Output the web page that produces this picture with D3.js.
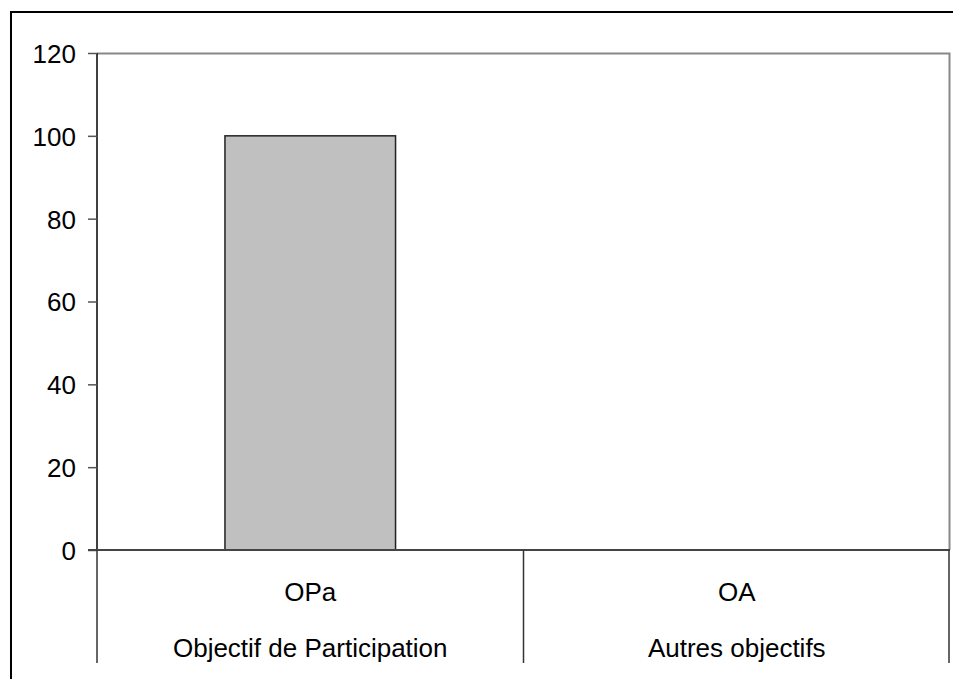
<!DOCTYPE html>
<html>
<head>
<meta charset="utf-8">
<script src="https://cdn.jsdelivr.net/npm/d3@7"></script>
<style>
  html, body { margin: 0; padding: 0; background: #fff; }
  svg { display: block; }
  text { font-family: "Liberation Sans", Arial, sans-serif; fill: #000; }
</style>
</head>
<body>
<svg id="chart" width="953" height="679"></svg>
<script>
const categories = ["OPa", "OA"];
const categoryNames = ["Objectif de Participation", "Autres objectifs"];
const values = [100, 0];
const yTicks = [0, 20, 40, 60, 80, 100, 120];

const W = 953, H = 679;
const margin = { left: 97, top: 53, right: 3, bottom: 129 };
const plotW = W - margin.left - margin.right;
const plotH = H - margin.top - margin.bottom;

const svg = d3.select("#chart");

// outer chart border
svg.append("rect")
  .attr("x", 11).attr("y", 12)
  .attr("width", 960).attr("height", 700)
  .attr("fill", "none").attr("stroke", "#000").attr("stroke-width", 2);

const g = svg.append("g").attr("transform", `translate(${margin.left},${margin.top})`);

const x = d3.scaleBand().domain(categories).range([0, plotW]).paddingInner(0.6).paddingOuter(0.3);
const xBand = d3.scaleBand().domain(categories).range([0, plotW]);
const y = d3.scaleLinear().domain([0, 120]).range([plotH, 0]);

// plot area border (top and right, gray)
g.append("path")
  .attr("d", `M0,0.5H${plotW - 0.5}V${plotH}`)
  .attr("fill", "none").attr("stroke", "#888").attr("stroke-width", 2);

// bars
g.selectAll("rect.bar").data(values).join("rect")
  .attr("class", "bar")
  .attr("x", (d, i) => x(categories[i]))
  .attr("width", x.bandwidth())
  .attr("y", d => y(d))
  .attr("height", d => y(0) - y(d))
  .attr("fill", "#c0c0c0").attr("stroke", "#222").attr("stroke-width", 1.5);

// y axis
const yAxis = d3.axisLeft(y).tickValues(yTicks).tickSize(9).tickPadding(12).tickFormat(d3.format("d"));
const ya = g.append("g").call(yAxis);
ya.select(".domain").attr("stroke", "#000").attr("stroke-width", 1.5).attr("d", `M0,0V${plotH}`);
ya.selectAll(".tick line").attr("stroke", "#555").attr("stroke-width", 1.5);
ya.selectAll(".tick text")
  .style("font-family", '"Liberation Sans", Arial, sans-serif')
  .attr("font-size", 26).attr("dy", "0.36em").attr("fill", "#000");

// zero baseline
g.append("line")
  .attr("x1", -9).attr("x2", plotW).attr("y1", y(0)).attr("y2", y(0))
  .attr("stroke", "#444").attr("stroke-width", 2);

// category separators
const seps = categories.map(c => xBand(c)).concat([plotW - 1]);
g.selectAll("line.sep").data(seps).join("line")
  .attr("class", "sep")
  .attr("x1", d => d).attr("x2", d => d)
  .attr("y1", y(0)).attr("y2", y(0) + 113)
  .attr("stroke", "#333").attr("stroke-width", 1.5);

// category labels
g.selectAll("text.cat").data(categories).join("text")
  .attr("class", "cat")
  .attr("x", d => xBand(d) + xBand.bandwidth() / 2)
  .attr("y", y(0) + 51)
  .attr("text-anchor", "middle").attr("font-size", 26)
  .text(d => d);

g.selectAll("text.catname").data(categoryNames).join("text")
  .attr("class", "catname")
  .attr("x", (d, i) => xBand(categories[i]) + xBand.bandwidth() / 2)
  .attr("y", y(0) + 107)
  .attr("text-anchor", "middle").attr("font-size", 26)
  .text(d => d);
</script>
</body>
</html>
